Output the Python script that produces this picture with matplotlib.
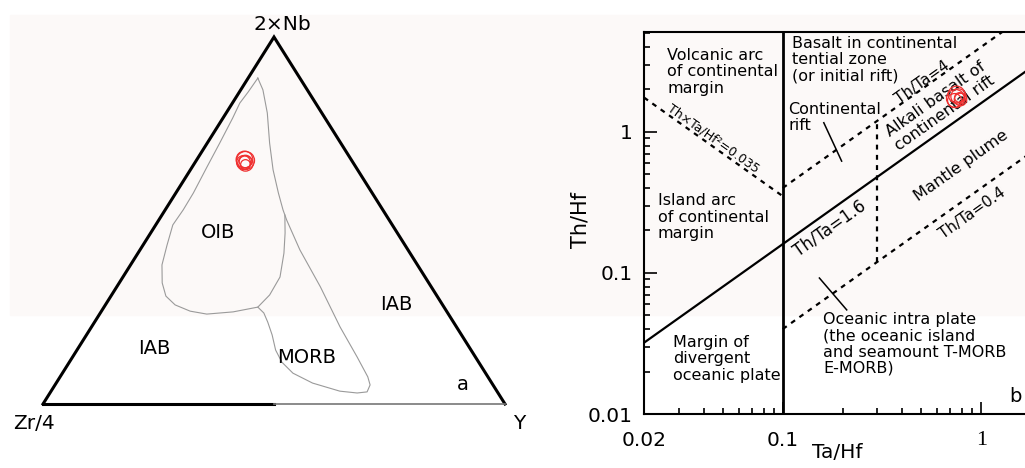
import numpy as np
import matplotlib
matplotlib.use('Agg')
import matplotlib.pyplot as plt
from matplotlib.patches import Rectangle
from matplotlib.ticker import FixedLocator, NullFormatter

plt.rcParams['font.family'] = ['DejaVu Sans']

# --- ternary Zr/4 - 2Nb - Y (fractions of 2Nb and Y; Zr/4 is the rest) ---
field_outer_nb = [0.888, 0.850, 0.820, 0.779, 0.711, 0.646, 0.575, 0.529, 0.488, 0.433,
                  0.379, 0.330, 0.294, 0.270, 0.253, 0.245, 0.251, 0.264, 0.248, 0.223,
                  0.188, 0.147, 0.114, 0.084, 0.057, 0.035, 0.030, 0.033, 0.052, 0.074,
                  0.128, 0.210, 0.319, 0.420, 0.501, 0.529, 0.575, 0.638, 0.711, 0.793,
                  0.856, 0.888]
field_outer_y = [0.021, 0.019, 0.016, 0.021, 0.027, 0.032, 0.038, 0.039, 0.037, 0.052,
                 0.068, 0.093, 0.119, 0.151, 0.192, 0.232, 0.286, 0.333, 0.354, 0.375,
                 0.402, 0.430, 0.460, 0.499, 0.555, 0.625, 0.665, 0.685, 0.682, 0.666,
                 0.616, 0.538, 0.441, 0.346, 0.277, 0.255, 0.222, 0.179, 0.135, 0.089,
                 0.048, 0.021]
oib_divide_nb = [0.264, 0.297, 0.346, 0.411, 0.466, 0.515]
oib_divide_y = [0.333, 0.342, 0.340, 0.316, 0.291, 0.266]

tern_nb = [0.665, 0.658, 0.662, 0.668, 0.655, 0.660]
tern_y = [0.104, 0.108, 0.106, 0.101, 0.110, 0.103]

tern_labels = ['OIB', 'IAB', 'IAB', 'MORB', 'a']

# --- Ta/Hf - Th/Hf ---
ta_hf = [0.74, 0.76, 0.78, 0.75, 0.77, 0.73]
th_hf = [1.74, 1.80, 1.70, 1.84, 1.76, 1.68]

th_ta_rift = 4.0
th_ta_plume = 1.6
th_ta_ocean = 0.4
th_ta_hf2 = 0.035
ta_hf_arc = 0.1
ta_hf_mid = 0.3
xmin, xmax = 0.02, 2.0
ymin, ymax = 0.01, 5.1

# symbol sizes for the stacked sample circles
ring_sizes = [13, 11, 9, 12, 7, 10]


def tern_xy(nb, y):
    nb = np.asarray(nb)
    y = np.asarray(y)
    return y + nb / 2.0, nb * np.sqrt(3) / 2.0


def rings(ax, x, y):
    for xi, yi, ms in zip(x, y, ring_sizes):
        ax.plot(xi, yi, 'o', mfc='none', mec='#f03030', ms=ms, mew=0.9, zorder=5)


fig = plt.figure(figsize=(10.25, 4.68), dpi=100)
fig.patch.set_facecolor('white')
fig.patches.append(Rectangle((0.01, 1 - 315 / 468.), 0.99, 300 / 468.,
                             transform=fig.transFigure, color='#fcf9f8',
                             zorder=-10))

# ---------------- panel a ----------------
ax1 = fig.add_axes([43 / 1025., 64 / 468., 462 / 1025., 367 / 468.])
ax1.set_xlim(0, 1)
ax1.set_ylim(0, np.sqrt(3) / 2)
ax1.axis('off')
h = np.sqrt(3) / 2
ax1.plot([0, 0.5, 1], [0, h, 0], color='black', lw=2.2, solid_joinstyle='miter',
         clip_on=False)
ax1.plot([0, 0.5], [0, 0], color='black', lw=2.2, clip_on=False)
ax1.plot([0.5, 1], [0, 0], color='#777777', lw=1.2, clip_on=False)

fx, fy = tern_xy(field_outer_nb, field_outer_y)
ax1.plot(fx, fy, color='#9a9a9a', lw=0.8)
dx, dy = tern_xy(oib_divide_nb, oib_divide_y)
ax1.plot(dx, dy, color='#9a9a9a', lw=0.8)

sx, sy = tern_xy(tern_nb, tern_y)
rings(ax1, sx, sy)

tf = ax1.transAxes
ax1.text(0.519, 1.033, '2×Nb', transform=tf, ha='center', va='center', fontsize=14.5)
ax1.text(-0.019, -0.052, 'Zr/4', transform=tf, ha='center', va='center', fontsize=14.5)
ax1.text(1.017, -0.052, 'Y', transform=tf, ha='left', va='center', fontsize=14.5)
for lab, (px, py) in zip(tern_labels, [(0.379, 0.466), (0.764, 0.270), (0.242, 0.150),
                                       (0.571, 0.128), (0.909, 0.052)]):
    ax1.text(px, py, lab, transform=tf, ha='center', va='center', fontsize=14)

# ---------------- panel b ----------------
ax2 = fig.add_axes([644 / 1025., 54 / 468., 397 / 1025., 382 / 468.])
ax2.set_facecolor('none')
ax2.set_xscale('log')
ax2.set_yscale('log')
ax2.set_xlim(xmin, xmax)
ax2.set_ylim(ymin, ymax)

ax2.plot([ta_hf_arc, ta_hf_arc], [ymin, ymax], color='black', lw=2)
x = np.array([xmin, xmax])
ax2.plot(x, th_ta_plume * x, color='black', lw=1.6)
dots = (0, (2.2, 2.4))
x = np.array([ta_hf_arc, ymax / th_ta_rift])
ax2.plot(x, th_ta_rift * x, color='black', lw=1.6, ls=dots)
x = np.array([ta_hf_arc, xmax])
ax2.plot(x, th_ta_ocean * x, color='black', lw=1.6, ls=dots)
x = np.array([xmin, ta_hf_arc])
ax2.plot(x, th_ta_hf2 / x, color='black', lw=1.6, ls=dots)
ax2.plot([ta_hf_mid, ta_hf_mid], [th_ta_ocean * ta_hf_mid, th_ta_rift * ta_hf_mid],
         color='black', lw=1.6, ls=dots)
# short markers crossing the rift and oceanic lines
ax2.plot([0.161, 0.198], [1.16, 0.62], color='black', lw=1.1)
ax2.plot([0.153, 0.210], [0.092, 0.0547], color='black', lw=1.1)

rings(ax2, ta_hf, th_hf)

ax2.spines['right'].set_visible(False)
for s in ['left', 'bottom', 'top']:
    ax2.spines[s].set_linewidth(1.5)

ax2.xaxis.set_major_locator(FixedLocator([0.02, 0.1, 1]))
ax2.xaxis.set_minor_locator(FixedLocator([0.03, 0.04, 0.05, 0.06, 0.07, 0.08, 0.09,
                                          0.2, 0.3, 0.4, 0.5, 0.6, 0.7, 0.8, 0.9]))
ax2.xaxis.set_minor_formatter(NullFormatter())
ax2.set_xticklabels(['0.02', '0.1', '1'])
ax2.yaxis.set_major_locator(FixedLocator([0.01, 0.1, 1]))
ax2.yaxis.set_minor_locator(FixedLocator([0.02, 0.03, 0.04, 0.05, 0.06, 0.07, 0.08, 0.09,
                                          0.2, 0.3, 0.4, 0.5, 0.6, 0.7, 0.8, 0.9,
                                          2, 3, 4, 5]))
ax2.yaxis.set_minor_formatter(NullFormatter())
ax2.set_yticklabels(['0.01', '0.1', '1'])
ax2.tick_params(which='both', direction='in', top=False, right=False, width=1.2,
                labelsize=14.5)
ax2.tick_params(which='major', length=9)
ax2.tick_params(which='minor', length=4.5)
ax2.tick_params(axis='x', which='major', pad=12)
ax2.tick_params(axis='y', which='major', pad=8)
ax2.get_xticklabels()[2].set_family('Liberation Serif')
ax2.get_xticklabels()[2].set_fontsize(16)

ax2.set_xlabel('Ta/Hf', fontsize=14.5)
ax2.xaxis.set_label_coords(0.486, -0.076)
ax2.set_ylabel('Th/Hf', fontsize=15)
ax2.yaxis.set_label_coords(-0.136, 0.508)

ta = ax2.transAxes
fs = 11.5
lsp = 1.12
ax2.text(0.058, 0.958, 'Volcanic arc\nof continental\nmargin', transform=ta,
         ha='left', va='top', fontsize=fs, linespacing=lsp)
ax2.text(0.373, 0.99, 'Basalt in continental\ntential zone\n(or initial rift)',
         transform=ta, ha='left', va='top', fontsize=fs, linespacing=lsp)
ax2.text(0.363, 0.818, 'Continental\nrift', transform=ta, ha='left', va='top',
         fontsize=fs, linespacing=lsp)
ax2.text(0.035, 0.578, 'Island arc\nof continental\nmargin', transform=ta,
         ha='left', va='top', fontsize=fs, linespacing=lsp)
ax2.text(0.073, 0.207, 'Margin of\ndivergent\noceanic plate', transform=ta,
         ha='left', va='top', fontsize=fs, linespacing=lsp)
ax2.text(0.451, 0.268, 'Oceanic intra plate\n(the oceanic island\nand seamount T-MORB\nE-MORB)',
         transform=ta, ha='left', va='top', fontsize=fs, linespacing=lsp)
ax2.text(0.935, 0.045, 'b', transform=ta, ha='center', va='center', fontsize=14)


def ax_pos(px, py):
    return (px - 644) / 397., (414 - py) / 382.


ang = 35.3
for lab, (px, py), rot, size in [
        ('Th/Ta=4', (922, 82), ang, 11),
        ('Alkali basalt of\ncontinental rift', (940, 106), ang, fs),
        ('Mantle plume', (961, 166), ang, 11.7),
        ('Th/Ta=1.6', (830, 228), ang, 12),
        ('Th/Ta=0.4', (972, 213), ang, 11),
        ('Th×Ta/Hf²=0.035', (713, 138), -ang, 9)]:
    ax2.text(*ax_pos(px, py), lab, transform=ta, ha='center', va='center',
             rotation=rot, rotation_mode='anchor', fontsize=size, linespacing=lsp)

fig.savefig('out.png', dpi=100)
